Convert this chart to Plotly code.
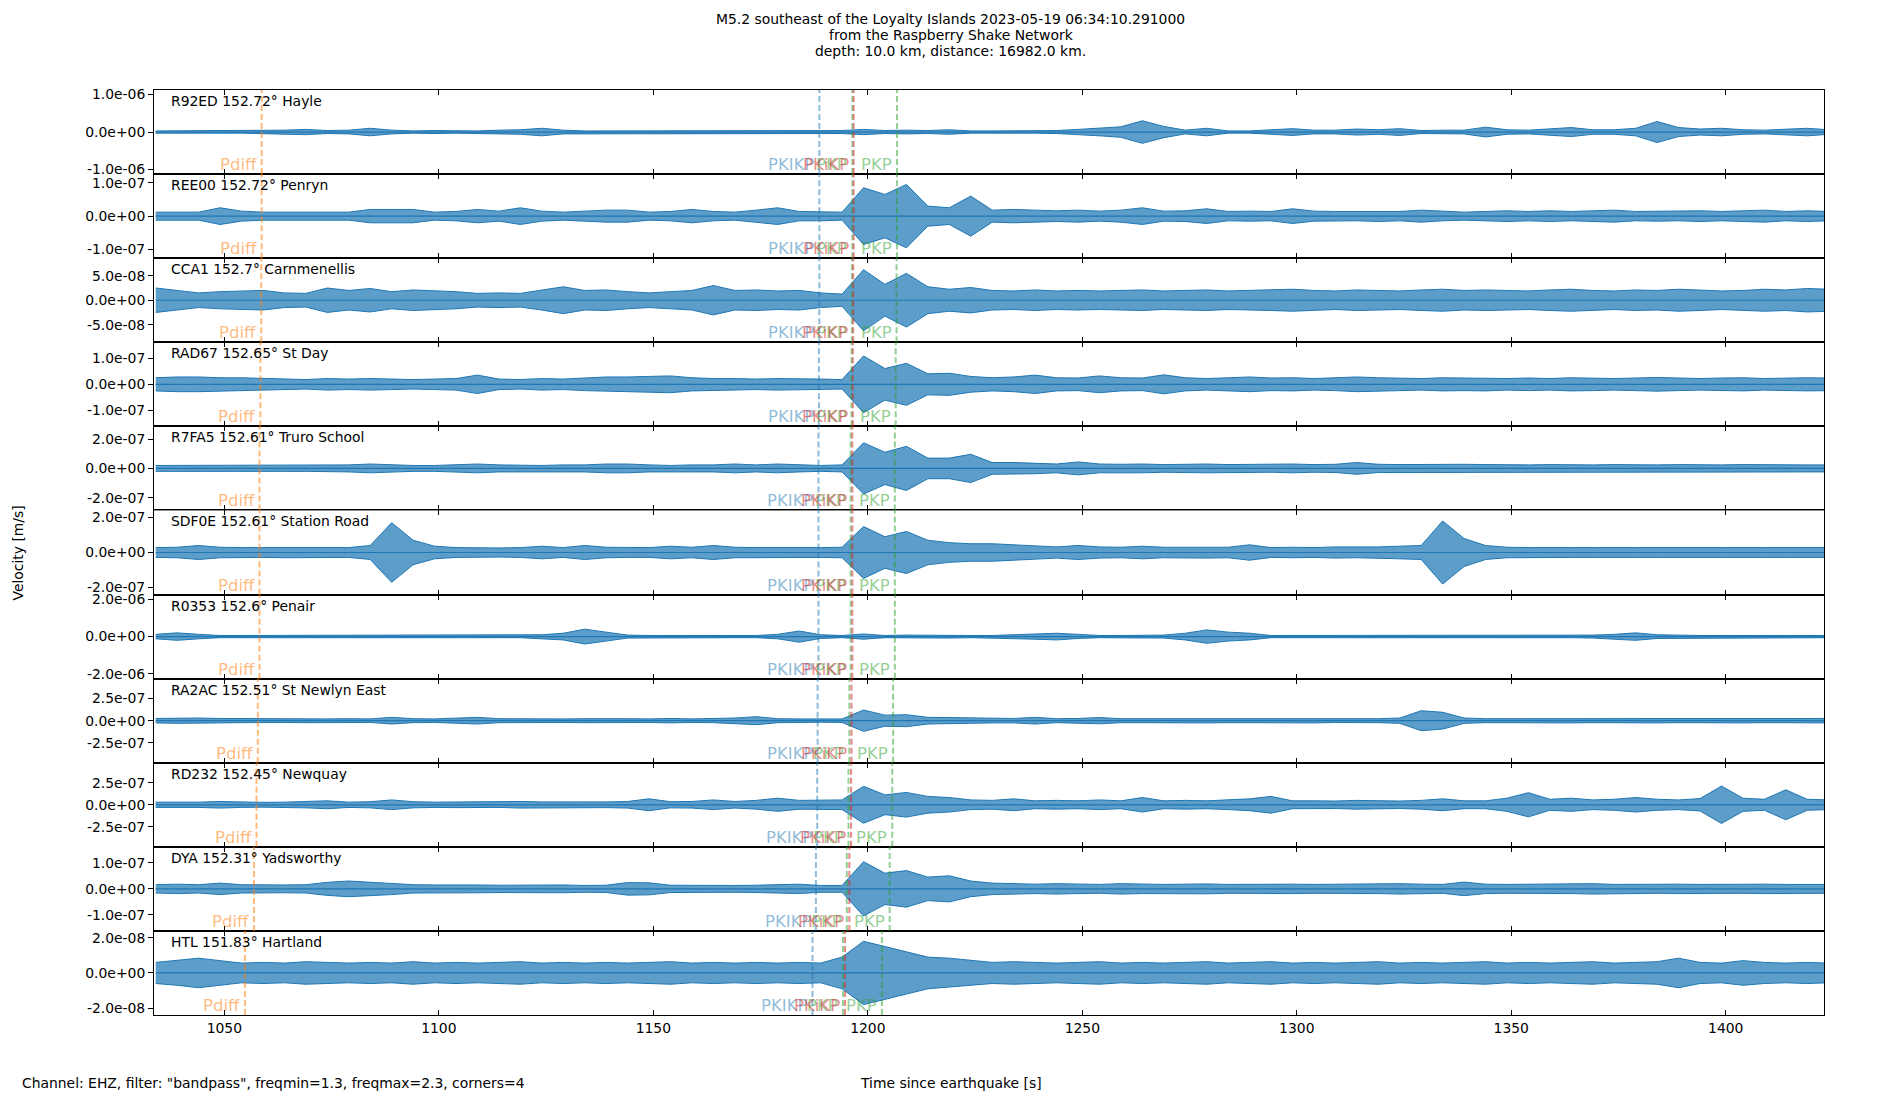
import numpy as np
import plotly.graph_objects as go
from plotly.subplots import make_subplots

# sampling of the read-off envelopes (seconds since the earthquake)
T_START = 1034
T_STEP = 5
X_RANGE = [1033.6, 1422.9]
X_TICKS = [1050, 1100, 1150, 1200, 1250, 1300, 1350, 1400]

STATIONS = ["R92ED", "REE00", "CCA1", "RAD67", "R7FA5", "SDF0E",
            "R0353", "RA2AC", "RD232", "DYA", "HTL"]
DISTANCES = ["152.72", "152.72", "152.7", "152.65", "152.61", "152.61",
             "152.6", "152.51", "152.45", "152.31", "151.83"]
PLACES = ["Hayle", "Penryn", "Carnmenellis", "St Day", "Truro School",
          "Station Road", "Penair", "St Newlyn East", "Newquay",
          "Yadsworthy", "Hartland"]

# y ticks and limits per station (m/s)
TICK_VALUES = [1e-6, 1e-7, 5e-8, 1e-7, 2e-7, 2e-7, 2e-6, 2.5e-7, 2.5e-7, 1e-7, 2e-8]
TICK_TEXT = ["1.0e-06", "1.0e-07", "5.0e-08", "1.0e-07", "2.0e-07", "2.0e-07",
             "2.0e-06", "2.5e-07", "2.5e-07", "1.0e-07", "2.0e-08"]
Y_LIMITS = [1.12e-6, 1.26e-7, 8.6e-8, 1.6e-7, 2.86e-7, 2.4e-7,
            2.26e-6, 4.74e-7, 4.78e-7, 1.61e-7, 2.39e-8]

# envelope values are given in these units (m/s)
ENV_UNITS = [1e-8, 1e-9, 5e-10, 1e-9, 2e-9, 2e-9, 2e-8, 2.5e-9, 2.5e-9, 1e-9, 2e-10]

# waveform envelopes, one value every 5 s from 1034 s
ENV_R92ED = [3, 3, 3, 3, 3, 3, 5, 7, 4, 5, 10, 5, 3, 4, 3, 3, 5, 6, 10, 5,
             3, 3, 3, 3, 3, 3, 3, 3, 3, 3, 4, 4, 4, 7, 4, 5, 4, 6, 3, 3,
             3, 3, 4, 7, 10, 14, 30, 15, 5, 10, 3, 3, 6, 9, 5, 5, 8, 6, 9, 4,
             5, 5, 13, 6, 5, 8, 12, 6, 6, 10, 28, 12, 8, 10, 6, 5, 8, 10, 6]
ENV_REE00 = [12, 12, 12, 25, 15, 12, 12, 12, 12, 12, 20, 20, 20, 12, 14, 20, 15, 25, 15, 12,
             15, 18, 18, 12, 14, 20, 14, 12, 18, 25, 14, 14, 12, 85, 65, 95, 30, 25, 60, 18,
             20, 18, 16, 18, 15, 18, 25, 15, 16, 22, 14, 15, 14, 22, 15, 14, 14, 16, 14, 18,
             14, 12, 14, 16, 14, 16, 14, 15, 18, 14, 15, 14, 16, 14, 16, 18, 14, 16, 14]
ENV_CCA1 = [50, 40, 30, 35, 38, 40, 30, 28, 50, 40, 48, 35, 42, 40, 35, 28, 30, 28, 40, 55,
            40, 42, 35, 30, 35, 40, 60, 40, 42, 38, 40, 30, 25, 125, 65, 110, 55, 45, 52, 40,
            38, 42, 38, 40, 38, 40, 42, 38, 40, 42, 38, 40, 42, 45, 40, 38, 42, 40, 38, 42,
            45, 40, 42, 40, 38, 42, 45, 40, 38, 42, 40, 45, 42, 38, 40, 45, 42, 48, 45]
ENV_RAD67 = [25, 28, 28, 25, 25, 22, 20, 18, 22, 20, 22, 20, 18, 20, 22, 35, 20, 18, 22, 20,
             24, 28, 28, 30, 32, 25, 22, 22, 20, 22, 22, 20, 18, 108, 60, 80, 40, 42, 30, 25,
             28, 35, 25, 24, 32, 25, 24, 36, 25, 22, 25, 28, 24, 25, 22, 24, 28, 25, 24, 22,
             25, 24, 25, 22, 24, 22, 25, 24, 22, 24, 26, 24, 22, 24, 25, 22, 24, 25, 24]
ENV_R7FA5 = [10, 10, 12, 10, 10, 10, 10, 10, 10, 12, 15, 12, 10, 10, 12, 15, 12, 10, 10, 12,
             12, 15, 15, 12, 10, 12, 12, 15, 12, 15, 12, 10, 12, 87, 55, 75, 35, 35, 48, 20,
             20, 18, 15, 22, 15, 14, 15, 13, 14, 15, 13, 14, 13, 15, 13, 14, 20, 14, 13, 14,
             13, 14, 13, 12, 12, 13, 12, 12, 13, 12, 12, 13, 12, 12, 13, 12, 12, 12, 12]
ENV_SDF0E = [14, 15, 20, 15, 14, 14, 15, 14, 15, 14, 20, 85, 35, 18, 14, 13, 13, 14, 18, 14,
             20, 15, 14, 14, 18, 15, 20, 15, 14, 15, 14, 14, 15, 74, 45, 60, 35, 28, 25, 25,
             22, 18, 16, 20, 16, 15, 18, 15, 15, 16, 15, 22, 14, 15, 14, 16, 15, 16, 18, 20,
             90, 40, 20, 15, 14, 15, 14, 14, 15, 14, 14, 15, 14, 14, 15, 14, 14, 15, 14]
ENV_R0353 = [6, 10, 6, 3, 3, 3, 3, 3, 4, 4, 3, 3, 3, 3, 3, 3, 3, 3, 5, 9,
             20, 12, 4, 3, 3, 3, 3, 3, 3, 6, 15, 5, 3, 7, 3, 4, 3, 4, 3, 3,
             6, 7, 9, 5, 3, 3, 3, 4, 9, 18, 12, 9, 3, 3, 3, 3, 3, 3, 3, 3,
             3, 3, 3, 3, 3, 3, 3, 4, 6, 10, 5, 3, 3, 3, 3, 3, 3, 3, 3]
ENV_RA2AC = [10, 12, 12, 10, 9, 10, 8, 9, 8, 9, 8, 15, 9, 8, 10, 15, 9, 8, 9, 8,
             9, 10, 9, 8, 10, 8, 9, 12, 18, 9, 8, 7, 8, 48, 25, 27, 15, 14, 12, 10,
             10, 15, 9, 10, 14, 9, 9, 10, 9, 10, 9, 10, 9, 9, 10, 8, 8, 9, 12, 45,
             38, 12, 9, 9, 10, 9, 10, 9, 10, 9, 10, 9, 10, 9, 10, 9, 10, 9, 10]
ENV_RD232 = [12, 11, 12, 15, 12, 11, 12, 14, 18, 12, 14, 22, 14, 12, 13, 14, 12, 15, 13, 12,
             14, 13, 15, 27, 14, 15, 22, 15, 20, 30, 20, 20, 22, 84, 45, 56, 38, 33, 22, 20,
             27, 18, 20, 18, 22, 18, 33, 18, 20, 18, 22, 27, 38, 18, 18, 17, 20, 18, 17, 20,
             27, 18, 18, 30, 55, 25, 30, 22, 25, 33, 25, 22, 28, 85, 30, 25, 68, 25, 22]
ENV_DYA = [16, 18, 16, 22, 16, 15, 15, 16, 25, 30, 25, 22, 16, 15, 16, 15, 14, 15, 14, 15,
           13, 14, 24, 23, 14, 13, 14, 13, 14, 15, 18, 13, 13, 104, 60, 70, 45, 50, 30, 22,
           20, 18, 20, 18, 17, 20, 18, 17, 18, 19, 17, 18, 17, 18, 17, 18, 17, 18, 20, 18,
           17, 26, 18, 17, 18, 17, 18, 20, 17, 18, 17, 18, 17, 18, 17, 18, 17, 18, 17]
ENV_HTL = [30, 35, 42, 35, 28, 30, 28, 32, 30, 28, 30, 28, 32, 28, 30, 28, 30, 32, 28, 30,
           28, 30, 28, 30, 32, 28, 30, 28, 30, 28, 30, 28, 45, 90, 75, 60, 45, 42, 35, 30,
           32, 30, 28, 30, 32, 28, 30, 28, 30, 32, 28, 30, 32, 28, 30, 28, 30, 32, 28, 30,
           28, 30, 32, 28, 30, 28, 30, 32, 28, 30, 32, 42, 30, 28, 35, 30, 28, 30, 28]

ENVELOPES = [ENV_R92ED, ENV_REE00, ENV_CCA1, ENV_RAD67, ENV_R7FA5, ENV_SDF0E,
             ENV_R0353, ENV_RA2AC, ENV_RD232, ENV_DYA, ENV_HTL]

# predicted arrival times per station (s)
T_PDIFF = [1058.7, 1058.7, 1058.6, 1058.4, 1058.2, 1058.2, 1058.2, 1057.8, 1057.5, 1056.9, 1054.8]
T_PKIKP = [1188.7, 1188.7, 1188.7, 1188.6, 1188.5, 1188.5, 1188.5, 1188.3, 1188.2, 1187.9, 1187.1]
T_PKiKP = [1196.7, 1196.7, 1196.6, 1196.5, 1196.4, 1196.4, 1196.4, 1196.2, 1196.1, 1195.7, 1194.7]
T_PKP_BC = [1196.4, 1196.4, 1196.3, 1196.2, 1196.0, 1196.0, 1196.0, 1195.7, 1195.5, 1195.1, 1194.2]
T_PKP_AB = [1206.8, 1206.8, 1206.7, 1206.5, 1206.3, 1206.3, 1206.3, 1205.9, 1205.7, 1205.1, 1203.3]

# drawing order: the red PKiKP sits on top of the nearby green PKP branch
PHASES = [
    ("Pdiff", T_PDIFF, "rgba(255,127,14,0.55)"),
    ("PKIKP", T_PKIKP, "rgba(31,119,180,0.5)"),
    ("PKP", T_PKP_BC, "rgba(44,160,44,0.5)"),
    ("PKiKP", T_PKiKP, "rgba(214,39,40,0.55)"),
    ("PKP", T_PKP_AB, "rgba(44,160,44,0.5)"),
]

TITLE_LINES = ["M5.2 southeast of the Loyalty Islands 2023-05-19 06:34:10.291000",
               "from the Raspberry Shake Network",
               "depth: 10.0 km, distance: 16982.0 km."]

FONT = "DejaVu Sans"

n = len(STATIONS)
fig = make_subplots(rows=n, cols=1, shared_xaxes=True, vertical_spacing=0)

for i in range(n):
    row = i + 1
    xname = "x" if row == 1 else "x%d" % row
    yname = "y" if row == 1 else "y%d" % row

    env = np.array(ENVELOPES[i], dtype=float) * ENV_UNITS[i]
    t = T_START + T_STEP * np.arange(len(env))
    fig.add_trace(
        go.Scatter(
            x=np.concatenate([t, t[::-1]]),
            y=np.concatenate([env, -env[::-1]]),
            mode="lines",
            fill="toself",
            fillcolor="rgba(31,119,180,0.72)",
            line=dict(color="#1f77b4", width=1),
            hoverinfo="skip",
            showlegend=False,
        ),
        row=row, col=1,
    )
    # trace centre line
    fig.add_trace(
        go.Scatter(x=[t[0], t[-1]], y=[0, 0], mode="lines",
                   line=dict(color="#1f77b4", width=1.2),
                   hoverinfo="skip", showlegend=False),
        row=row, col=1,
    )

    # phase arrival markers
    for label, times, color in PHASES:
        fig.add_shape(
            type="line", x0=times[i], x1=times[i], y0=0, y1=1,
            xref=xname, yref=yname + " domain",
            line=dict(color=color, width=2, dash="6px,3px"),
            layer="above",
        )
        fig.add_annotation(
            x=times[i], y=0, xref=xname, yref=yname + " domain",
            text=label, showarrow=False, xanchor="right", yanchor="bottom",
            xshift=-3, yshift=-2,
            font=dict(family=FONT, size=16.5, color=color),
        )

    fig.add_annotation(
        x=0, y=1, xref=xname + " domain", yref=yname + " domain",
        text="%s %s° %s" % (STATIONS[i], DISTANCES[i], PLACES[i]),
        showarrow=False, xanchor="left", yanchor="top", xshift=15, yshift=-1,
        font=dict(family=FONT, size=13.9, color="black"),
    )

    tv = TICK_VALUES[i]
    fig.update_yaxes(
        range=[-Y_LIMITS[i], Y_LIMITS[i]],
        tickvals=[-tv, 0, tv],
        ticktext=["-" + TICK_TEXT[i], "0.0e+00", TICK_TEXT[i]],
        row=row, col=1,
    )

fig.update_yaxes(
    ticks="outside", ticklen=5, tickwidth=1, tickcolor="black",
    showline=True, linecolor="black", linewidth=1, mirror=True,
    showgrid=False, zeroline=False, fixedrange=True,
    tickfont=dict(family=FONT, size=13.9, color="black"),
)
fig.update_xaxes(
    range=X_RANGE, tickvals=X_TICKS,
    ticks="inside", ticklen=5, tickwidth=1, tickcolor="black",
    showline=True, linecolor="black", linewidth=1, mirror="ticks",
    showgrid=False, zeroline=False,
    tickfont=dict(family=FONT, size=13.9, color="black"),
)

# figure texts: title, axis labels, processing note
for text, y in zip(TITLE_LINES, [1.0768, 1.0595, 1.0427]):
    fig.add_annotation(x=0.477, y=y, xref="paper", yref="paper", text=text,
                       showarrow=False, xanchor="center", yanchor="middle",
                       font=dict(family=FONT, size=13.9, color="black"))
fig.add_annotation(x=0.477, y=-0.0735, xref="paper", yref="paper",
                   text="Time since earthquake [s]", showarrow=False,
                   xanchor="center", yanchor="middle",
                   font=dict(family=FONT, size=13.9, color="black"))
fig.add_annotation(x=-0.0802, y=-0.0735, xref="paper", yref="paper",
                   text='Channel: EHZ, filter: "bandpass", freqmin=1.3, freqmax=2.3, corners=4',
                   showarrow=False, xanchor="left", yanchor="middle",
                   font=dict(family=FONT, size=13.9, color="black"))
fig.add_annotation(x=-0.0814, y=0.499, xref="paper", yref="paper",
                   text="Velocity [m/s]", textangle=-90, showarrow=False,
                   xanchor="center", yanchor="middle",
                   font=dict(family=FONT, size=13.9, color="black"))

fig.update_layout(
    width=1900, height=1100,
    margin=dict(l=146, r=84, t=82, b=93, autoexpand=False),
    paper_bgcolor="white", plot_bgcolor="white",
    font=dict(family=FONT, size=13.9, color="black"),
    showlegend=False,
)

fig.write_html("out.html")
